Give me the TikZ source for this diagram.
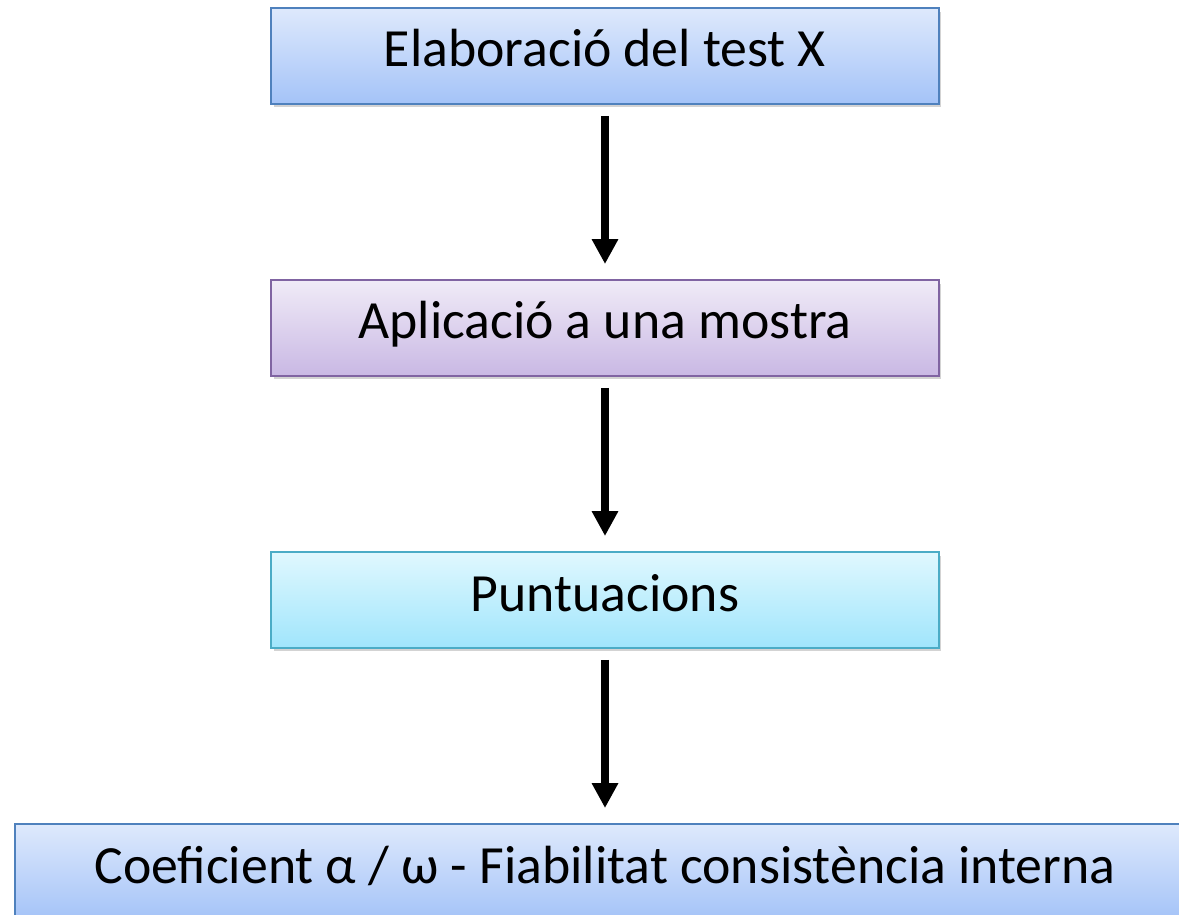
\documentclass[tikz,border=0pt]{standalone}
\usepackage{fontspec}
\setmainfont{Carlito}
\usetikzlibrary{arrows.meta,shadows}
\definecolor{flowblue}{RGB}{79,129,189}
\definecolor{flowbluetop}{RGB}{222,233,252}
\definecolor{flowbluebot}{RGB}{164,195,248}
\definecolor{flowpurple}{RGB}{128,100,162}
\definecolor{flowpurpletop}{RGB}{240,235,247}
\definecolor{flowpurplebot}{RGB}{201,184,228}
\definecolor{flowcyan}{RGB}{75,172,198}
\definecolor{flowcyantop}{RGB}{224,248,254}
\definecolor{flowcyanbot}{RGB}{160,229,252}

\begin{document}
\begin{tikzpicture}[x=0.02cm, y=-0.02cm,
  stepbox/.style={draw, line width=1.1pt, minimum width=13.36cm, minimum height=1.92cm,
    font=\fontsize{30.6}{36}\selectfont, text height=0.8cm, text depth=0.36cm,
    drop shadow={opacity=0.35, shadow xshift=0.05cm, shadow yshift=-0.07cm}},
  flowarrow/.style={-{Triangle[width=0.5cm, length=0.5cm]}, line width=4.5pt,
    shorten <=0.22cm, shorten >=0.3cm}]
\useasboundingbox (0,0) rectangle (1179,915);
\clip (0,0) rectangle (1179,915);
% Steps
\node[stepbox, flowblue, top color=flowbluetop, bottom color=flowbluebot, text=black] (test) at (605,56) {Elaboració del test X};
\node[stepbox, flowpurple, top color=flowpurpletop, bottom color=flowpurplebot, text=black] (mostra) at (605,328) {Aplicació a una mostra};
\node[stepbox, flowcyan, top color=flowcyantop, bottom color=flowcyanbot, text=black] (punts) at (605,600) {Puntuacions};
% Result
\node[stepbox, flowblue, top color=flowbluetop, bottom color=flowbluebot, text=black, minimum width=23.6cm] (coef) at (605,872) {Coeficient α / ω - Fiabilitat consistència interna};
% Arrows
\draw[flowarrow] (test) -- (mostra);
\draw[flowarrow] (mostra) -- (punts);
\draw[flowarrow] (punts) -- (coef);
\end{tikzpicture}
\end{document}
